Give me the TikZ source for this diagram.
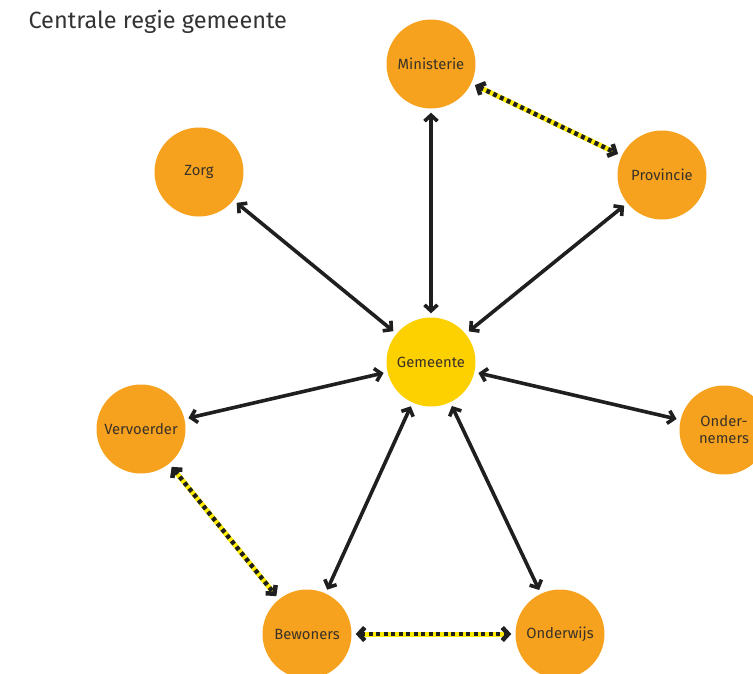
\documentclass[tikz,border=0pt]{standalone}
\usepackage{fontspec}
\setmainfont{Fira Sans}
\usetikzlibrary{arrows.meta}
\definecolor{oranje}{HTML}{F6A21E}
\definecolor{geel}{HTML}{FDD000}
\definecolor{tekst}{HTML}{3A3228}
\begin{document}
\begin{tikzpicture}[x=1pt,y=-1pt,
    partner/.style={circle, fill=oranje, minimum size=89pt, inner sep=0pt, font=\fontsize{14.8}{17}\selectfont, text=tekst, align=center},
    relatie/.style={line width=3.6pt, black!88, {Straight Barb[length=6pt,width=13pt]}-{Straight Barb[length=6pt,width=13pt]}, shorten <=4pt, shorten >=4pt},
    geelspoor/.style={line width=5pt, yellow!95!orange, shorten <=9pt, shorten >=9pt},
    stippel/.style={line width=4.5pt, black!88, dash pattern=on 4pt off 3.5pt, {Straight Barb[length=6pt,width=13pt]}-{Straight Barb[length=6pt,width=13pt]}, shorten <=4pt, shorten >=4pt}]
    \useasboundingbox (0,0) rectangle (753,673);

    \node[anchor=west, font=\fontsize{23.5}{26}\selectfont\addfontfeature{Color=333333}] (titel) at (25,22) {Centrale regie gemeente};

    \node[partner, fill=geel] (gemeente) at (431,362) {Gemeente};
    \node[partner] (ministerie) at (431,64) {Ministerie};
    \node[partner] (provincie) at (662,175) {Provincie};
    \node[partner] (zorg) at (199,172) {Zorg};
    \node[partner] (vervoerder) at (141,429) {Vervoerder};
    \node[partner] (ondernemers) at (724,430) {Onder-\\nemers};
    \node[partner] (bewoners) at (307,634) {Bewoners};
    \node[partner] (onderwijs) at (560,634) {Onderwijs};

    % lijnen vanuit de gemeente
    \draw[relatie] (gemeente) -- (ministerie);
    \draw[relatie] (gemeente) -- (provincie);
    \draw[relatie] (gemeente) -- (zorg);
    \draw[relatie] (gemeente) -- (vervoerder);
    \draw[relatie] (gemeente) -- (ondernemers);
    \draw[relatie] (gemeente) -- (bewoners);
    \draw[relatie] (gemeente) -- (onderwijs);

    % onderlinge lijnen
    \draw[geelspoor] (ministerie) -- (provincie);
    \draw[stippel] (ministerie) -- (provincie);
    \draw[geelspoor] (vervoerder) -- (bewoners);
    \draw[stippel] (vervoerder) -- (bewoners);
    \draw[geelspoor] (bewoners) -- (onderwijs);
    \draw[stippel] (bewoners) -- (onderwijs);
\end{tikzpicture}
\end{document}
